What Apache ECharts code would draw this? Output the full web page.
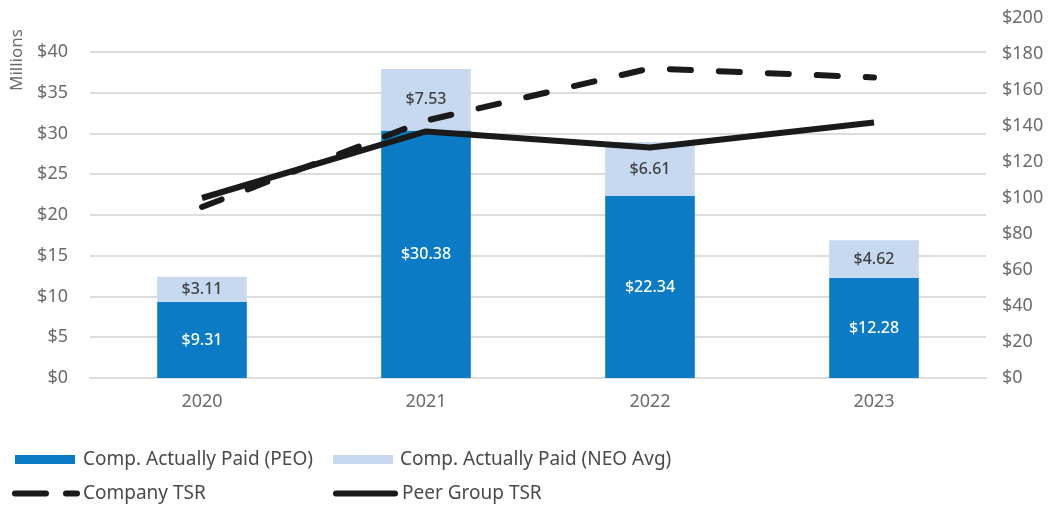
<!DOCTYPE html>
<html>
<head>
<meta charset="utf-8">
<script src="https://cdn.jsdelivr.net/npm/echarts@6/dist/echarts.min.js"></script>
<style>
  html, body { margin: 0; padding: 0; background: #fff; }
  #chart { width: 1051px; height: 508px; }
</style>
</head>
<body>
<div id="chart"></div>
<script>
// data
const years = ['2020', '2021', '2022', '2023'];
const peoPaid = [9.31, 30.38, 22.34, 12.28];
const neoPaid = [3.11, 7.53, 6.61, 4.62];
const companyTsr = [95, 143, 172, 167];
const peerTsr = [100, 137, 128, 142];

const FONT = 'Noto Sans';
const GREY = '#6b6b6b';
const GRID_LINE = '#dcdcdc';
const LEGEND_TEXT = '#4a4a4a';

// legend icons for the two lines (dashed = two pills, solid = one bar)
const DASH_ICON = 'path://M3,0H34A3,3 0 0 1 34,6H3A3,3 0 0 1 3,0Z M54,0H65A3,3 0 0 1 65,6H54A3,3 0 0 1 54,0Z';
const SOLID_ICON = 'path://M3,0H62A3,3 0 0 1 62,6H3A3,3 0 0 1 3,0Z';

const chart = echarts.init(document.getElementById('chart'));

const legendText = (padLeft) => ({
    fontSize: 19, color: LEGEND_TEXT, fontFamily: FONT, padding: [0, 0, 0, padLeft]
});

const option = {
    animation: false,
    textStyle: { fontFamily: FONT },
    grid: { left: 90, right: 65, top: 18, bottom: 130 },
    graphic: [{
        type: 'text',
        x: 9, y: 91,
        rotation: Math.PI / 2,
        style: { text: 'Millions', fill: GREY, fontSize: 17, fontFamily: FONT }
    }],
    legend: [
        {
            data: [{ name: 'Comp. Actually Paid (PEO)', icon: 'rect' }],
            left: 15, top: 450, padding: 0,
            itemWidth: 60, itemHeight: 9,
            textStyle: legendText(3)
        },
        {
            data: [{ name: 'Comp. Actually Paid (NEO Avg)', icon: 'rect' }],
            left: 333, top: 450, padding: 0,
            itemWidth: 60, itemHeight: 9,
            textStyle: legendText(2)
        },
        {
            data: [{ name: 'Company TSR', icon: DASH_ICON }],
            left: 12, top: 484, padding: 0,
            itemWidth: 68, itemHeight: 7,
            textStyle: legendText(-2)
        },
        {
            data: [{ name: 'Peer Group TSR', icon: SOLID_ICON }],
            left: 333, top: 484, padding: 0,
            itemWidth: 65, itemHeight: 7,
            textStyle: legendText(-1)
        }
    ],
    xAxis: {
        type: 'category',
        data: years,
        axisLine: { lineStyle: { color: GRID_LINE, width: 2 } },
        axisTick: { show: false },
        axisLabel: { color: GREY, fontSize: 18, margin: 15 }
    },
    yAxis: [
        {
            type: 'value',
            min: 0,
            max: 44.17,
            interval: 5,
            axisLine: { show: false },
            axisTick: { show: false },
            axisLabel: {
                color: GREY, fontSize: 18, margin: 22,
                formatter: v => (v % 5 === 0 ? '$' + v : '')
            },
            splitLine: { showMaxLine: false, lineStyle: { color: GRID_LINE, width: 2 } }
        },
        {
            type: 'value',
            min: 0,
            max: 200,
            interval: 20,
            axisLine: { show: false },
            axisTick: { show: false },
            splitLine: { show: false },
            axisLabel: { color: GREY, fontSize: 18, margin: 16, formatter: v => '$' + v }
        }
    ],
    series: [
        {
            name: 'Comp. Actually Paid (PEO)',
            type: 'bar',
            stack: 'comp',
            barWidth: '40%',
            data: peoPaid,
            itemStyle: { color: '#0a7bc4' },
            label: {
                show: true, position: 'inside',
                color: '#ffffff', fontSize: 16, fontWeight: 500,
                formatter: p => '$' + p.value.toFixed(2)
            }
        },
        {
            name: 'Comp. Actually Paid (NEO Avg)',
            type: 'bar',
            stack: 'comp',
            data: neoPaid,
            itemStyle: { color: '#c6d9f0' },
            label: {
                show: true, position: 'inside',
                color: '#404040', fontSize: 16, fontWeight: 500,
                formatter: p => '$' + p.value.toFixed(2)
            }
        },
        {
            name: 'Company TSR',
            type: 'line',
            yAxisIndex: 1,
            data: companyTsr,
            symbol: 'none',
            lineStyle: { color: '#1a1a1a', width: 6, type: [21, 28], cap: 'round' },
            itemStyle: { color: '#1a1a1a' }
        },
        {
            name: 'Peer Group TSR',
            type: 'line',
            yAxisIndex: 1,
            data: peerTsr,
            symbol: 'none',
            lineStyle: { color: '#1a1a1a', width: 6 },
            itemStyle: { color: '#1a1a1a' }
        }
    ]
};

chart.setOption(option);
</script>
</body>
</html>
